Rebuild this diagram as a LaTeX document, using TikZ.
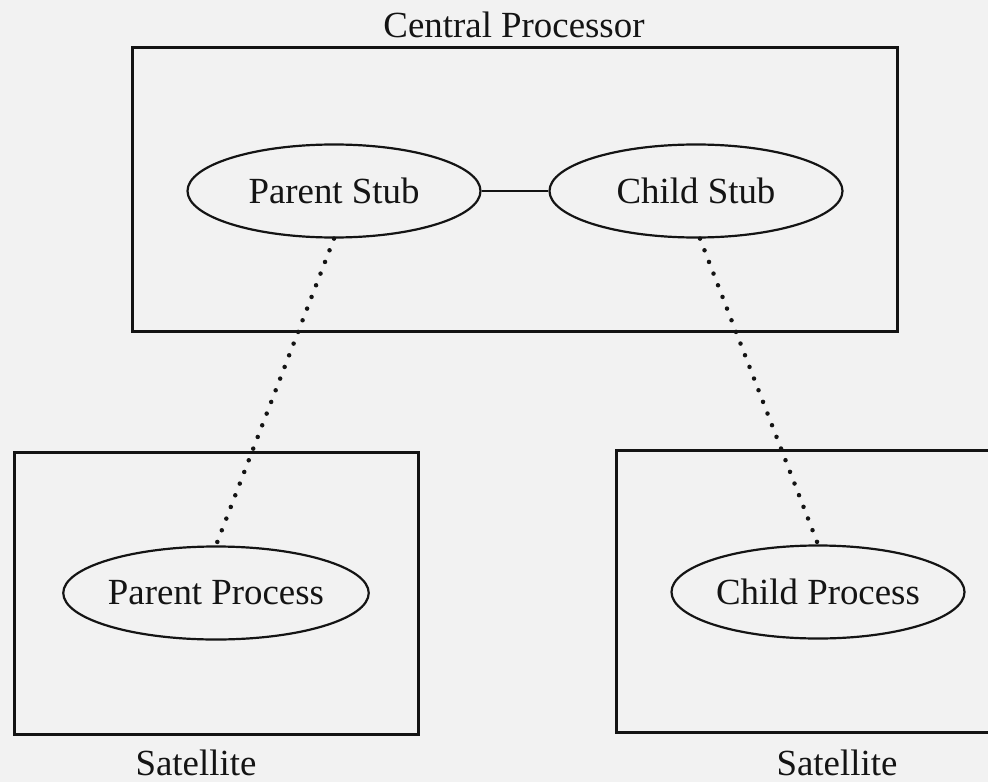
\documentclass[tikz,border=0pt]{standalone}
\usepackage{fontspec}
\setmainfont{Liberation Serif}
\usetikzlibrary{shapes.geometric}
\definecolor{paper}{RGB}{242,242,242}
\definecolor{ink}{RGB}{20,20,20}
\tikzset{
  boxline/.style={draw=ink, line width=3bp},
  oval/.style={ellipse, draw=ink, line width=2.2bp, minimum width=293bp, minimum height=93bp, inner sep=0pt, font=\fontsize{37}{40}\selectfont, text=ink},
  label/.style={font=\fontsize{37}{40}\selectfont, text=ink, inner sep=0pt},
  dotline/.style={draw=ink, line width=4.5bp, line cap=round, dash pattern=on 0pt off 12.5bp},
  solidlink/.style={draw=ink, line width=2.4bp}
}
\begin{document}
\begin{tikzpicture}[x=1bp,y=-1bp]
  \fill[paper] (0,0) rectangle (988,782);
  \useasboundingbox (0,0) rectangle (988,782);
  \begin{scope}
    \clip (0,0) rectangle (988,782);
    % boxes
    \draw[boxline] (132,48) rectangle (897,331);
    \draw[boxline] (14,452) rectangle (418,734);
    \draw[boxline] (616,450) rectangle (1010,732);
  \end{scope}
  % titles
  \node[label, anchor=base] (cp) at (514,38) {Central Processor};
  \node[label, anchor=base] (sat1) at (196,775) {Satellite};
  \node[label, anchor=base] (sat2) at (837,775) {Satellite};
  % ellipses
  \node[oval] (ps) at (334,191) {Parent Stub};
  \node[oval] (cs) at (696,191) {Child Stub};
  \node[oval] (pp) at (216,593) {Parent Process};
  \node[oval] (chp) at (818,592) {Child Process};
  % connectors
  \draw[solidlink] (ps.east) -- (cs.west);
  \draw[dotline] (ps.south) -- (pp.north);
  \draw[dotline] ([xshift=4bp]cs.south) -- (chp.north);
\end{tikzpicture}
\end{document}
